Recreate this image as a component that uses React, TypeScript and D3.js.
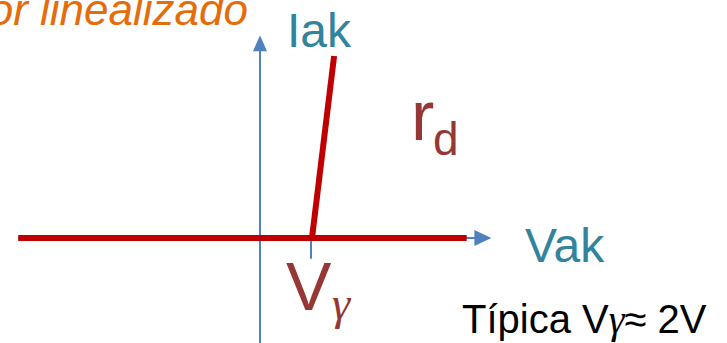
import React from "react";
import * as d3 from "d3";

const W = 727;
const H = 343;

// Data (Vak in volts, Iak in arbitrary units)
const offBranchV = [-9.3, 7.95];
const offBranchI = [0, 0];
const onBranchV = [2, 2.85];
const onBranchI = [0, 7];
const vGamma = 2;
const axisV = [-9.3, 8.9];
const axisI = [-4.1, 7.8];
const labels = {
  title: "or linealizado",
  iak: "Iak",
  vak: "Vak",
  rd: "r",
  rdSub: "d",
  vg: "V",
  gamma: "γ",
  note1: "Típica V",
  note2: "≈ 2V",
};

export default function App() {
  const x = d3.scaleLinear().domain([-10, 10]).range([0, 520]);
  const y = d3.scaleLinear().domain([0, 7]).range([238, 56]);
  const line = d3
    .line<[number, number]>()
    .x((d) => x(d[0]))
    .y((d) => y(d[1]));

  const off: [number, number][] = offBranchV.map((v, i) => [v, offBranchI[i]]);
  const on: [number, number][] = onBranchV.map((v, i) => [v, onBranchI[i]]);

  const blue = "#4F81BD";
  const red = "#C00000";
  const dark = "#953735";
  const teal = "#31849B";

  const x0 = x(0);
  const y0 = y(0);
  const vTop = y(axisI[1]);
  const hRight = x(axisV[1]);

  return (
    <svg
      width={W}
      height={H}
      style={{ position: "absolute", left: 0, top: 0, background: "#fff" }}
      fontFamily="Liberation Sans, Arial, sans-serif"
    >
      {/* axes */}
      <line x1={x0} x2={x0} y1={y(axisI[0])} y2={vTop + 14} stroke={blue} strokeWidth={2} />
      <path d={`M${x0},${vTop} L${x0 - 7},${vTop + 16} L${x0 + 7},${vTop + 16} Z`} fill={blue} />
      <line x1={x(axisV[0])} x2={hRight - 14} y1={y0} y2={y0} stroke={blue} strokeWidth={2} />
      <path d={`M${hRight},${y0} L${hRight - 17},${y0 - 8} L${hRight - 17},${y0 + 8} Z`} fill={blue} />
      {/* Vgamma tick */}
      <line x1={x(vGamma) - 1} x2={x(vGamma) - 1} y1={y0} y2={y(-0.8)} stroke={blue} strokeWidth={2} />

      {/* characteristic */}
      <path d={line(off) ?? ""} stroke={red} strokeWidth={6} fill="none" />
      <path d={line(on) ?? ""} stroke={red} strokeWidth={6} fill="none" />

      {/* texts */}
      <text x={248} y={25} textAnchor="end" fontSize={44} fontStyle="italic" fill="#E46C0A">
        {labels.title}
      </text>
      <text x={287} y={47} fontSize={48} fill={teal}>
        {labels.iak}
      </text>
      <text x={525} y={262} fontSize={48} fill={teal}>
        {labels.vak}
      </text>
      <text x={411} y={140} fontSize={70} fill={dark}>
        {labels.rd}
      </text>
      <text x={433} y={155} fontSize={46} fill={dark}>
        {labels.rdSub}
      </text>
      <text x={286} y={310} fontSize={68} fill={dark}>
        {labels.vg}
      </text>
      <text x={332} y={319} fontSize={46} fontStyle="italic" fontFamily="Liberation Serif, serif" fill={dark}>
        {labels.gamma}
      </text>
      <text x={462} y={333} fontSize={40} fill="#000">
        {labels.note1}
        <tspan fontFamily="Liberation Serif, serif" fontStyle="italic">
          {labels.gamma}
        </tspan>
        {labels.note2}
      </text>
    </svg>
  );
}
